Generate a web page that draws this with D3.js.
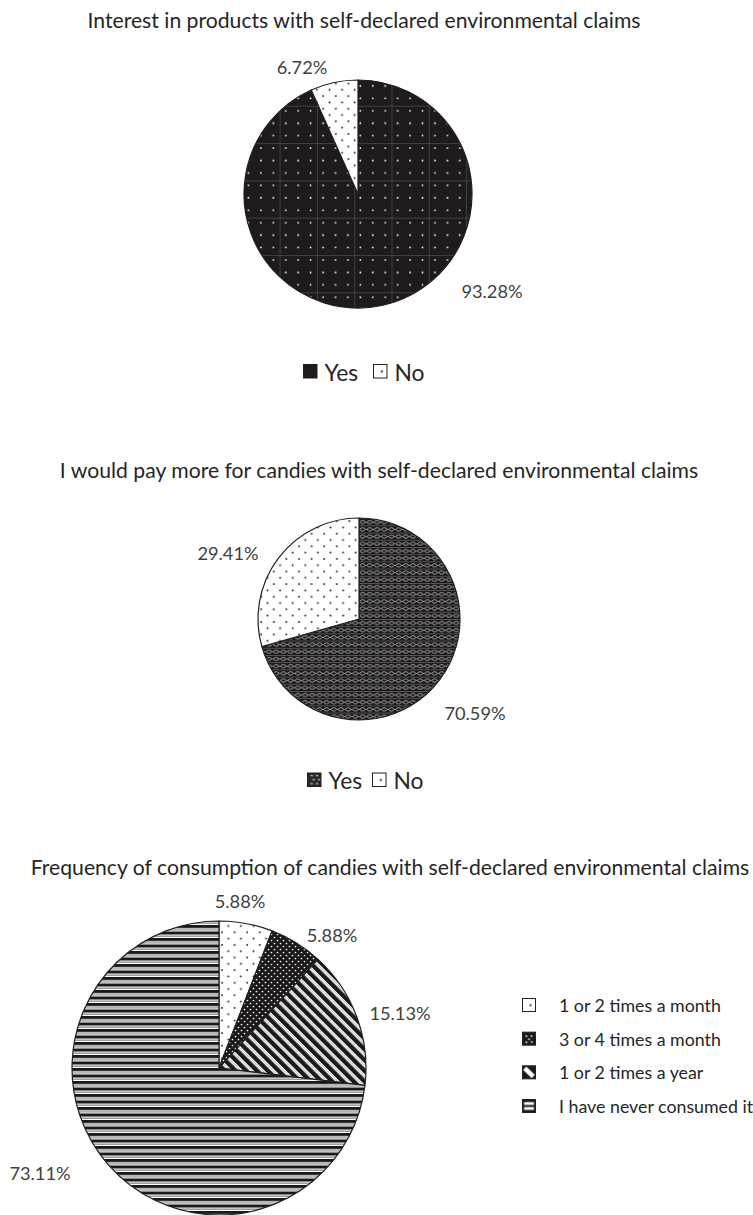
<!DOCTYPE html>
<html>
<head>
<meta charset="utf-8">
<script src="https://cdn.jsdelivr.net/npm/d3@7"></script>
<style>
  body { margin: 0; background: #fff; }
  svg { display: block; }
</style>
</head>
<body>
<script>
// Survey answers (percent of respondents)
const interestLabels = ["Yes", "No"];
const interestValues = [93.28, 6.72];

const payMoreLabels = ["Yes", "No"];
const payMoreValues = [70.59, 29.41];

const frequencyLabels = ["1 or 2 times a month", "3 or 4 times a month", "1 or 2 times a year", "I have never consumed it"];
const frequencyValues = [5.88, 5.88, 15.13, 73.11];

const chartTitles = [
  "Interest in products with self-declared environmental claims",
  "I would pay more for candies with self-declared environmental claims",
  "Frequency of consumption of candies with self-declared environmental claims"
];

const W = 753, H = 1215;
const INK = "#231f20";
const FONT = "Lato, 'Open Sans', sans-serif";

const svg = d3.select("body").append("svg")
  .attr("width", W).attr("height", H)
  .attr("viewBox", `0 0 ${W} ${H}`);

const defs = svg.append("defs");

// ---- fill patterns ----
function pattern(id, w, h, extra) {
  const p = defs.append("pattern").attr("id", id)
    .attr("patternUnits", "userSpaceOnUse")
    .attr("width", w).attr("height", h);
  if (extra) Object.entries(extra).forEach(([k, v]) => p.attr(k, v));
  return p;
}

// black with white dots and a faint grid
{
  const s = 37.3;
  const p = pattern("solidDots", s, s, { x: 257.3, y: 98.3 });
  p.append("rect").attr("width", s).attr("height", s).attr("fill", "#1f1b1c");
  p.append("path").attr("d", `M0.3,0V${s}M0,0.3H${s}`)
    .attr("stroke", "#5a5758").attr("stroke-width", 0.7).attr("fill", "none");
  [6.2, 18.6, 31.0].forEach(x => [5.0, 17.4, 29.8].forEach(y =>
    p.append("circle").attr("cx", x).attr("cy", y).attr("r", 0.9).attr("fill", "#fff")));
}

// white with sparse staggered black dots
{
  const s = 12.6;
  const p = pattern("sparseDots", s, s);
  p.append("rect").attr("width", s).attr("height", s).attr("fill", "#fff");
  [[3, 3], [9.3, 9.3]].forEach(([x, y]) =>
    p.append("circle").attr("cx", x).attr("cy", y).attr("r", 0.95).attr("fill", INK));
}

// dark lattice
{
  const w = 7.2, h = 7.2;
  const p = pattern("lattice", w, h);
  p.append("rect").attr("width", w).attr("height", h).attr("fill", "#1a1718");
  p.append("ellipse").attr("cx", w / 2).attr("cy", h / 2 + 0.4).attr("rx", 2.5).attr("ry", 1.6)
    .attr("fill", "none").attr("stroke", "#b4b2b3").attr("stroke-width", 0.8);
  p.append("path").attr("d", `M0,0.5H${w}`).attr("stroke", "#6f6d6e").attr("stroke-width", 0.7);
  p.append("circle").attr("cx", 0).attr("cy", h / 2 + 0.4).attr("r", 0.6).attr("fill", "#d8d8d8");
  p.append("circle").attr("cx", w).attr("cy", h / 2 + 0.4).attr("r", 0.6).attr("fill", "#d8d8d8");
}

// black with dense white dots
{
  const s = 6;
  const p = pattern("denseDots", s, s);
  p.append("rect").attr("width", s).attr("height", s).attr("fill", "#1b1819");
  [[1.5, 1.5], [4.5, 4.5]].forEach(([x, y]) =>
    p.append("circle").attr("cx", x).attr("cy", y).attr("r", 0.85).attr("fill", "#fff"));
}

// downward diagonal stripes
{
  const w = 7.6;
  const p = pattern("diagonal", w, w, { patternTransform: "rotate(-45)" });
  p.append("rect").attr("width", w).attr("height", w).attr("fill", "#fff");
  p.append("rect").attr("x", 0).attr("width", 4.4).attr("height", w).attr("fill", "#1b1819");
  p.append("rect").attr("x", 5.7).attr("width", 0.6).attr("height", w).attr("fill", "#a09e9f");
}

// horizontal stripes
{
  const h = 6.5;
  const p = pattern("horizontal", 10, h);
  p.append("rect").attr("width", 10).attr("height", h).attr("fill", "#fff");
  p.append("rect").attr("y", 0).attr("width", 10).attr("height", 3.1).attr("fill", "#1b1819");
  p.append("rect").attr("y", 4.3).attr("width", 10).attr("height", 1.0).attr("fill", "#6d6b6c");
}

// ---- helpers ----
function fitFont(sel, target) {
  sel.attr("font-size", 100);
  const w = sel.node().getComputedTextLength();
  sel.attr("font-size", 100 * target / w);
  return 100 * target / w;
}

function drawPie(cfg) {
  const { cx, cy, r, values, fills, labelOffsets } = cfg;
  const g = svg.append("g").attr("transform", `translate(${cx},${cy})`);
  const pie = d3.pie().sort(null).value(d => d)(values);
  const arc = d3.arc().innerRadius(0).outerRadius(r);
  g.selectAll("path.slice").data(pie).join("path")
    .attr("class", "slice")
    .attr("d", arc)
    .attr("fill", (d, i) => `url(#${fills[i]})`)
    .attr("stroke", INK)
    .attr("stroke-width", 1.2)
    .attr("stroke-linejoin", "round");
  g.selectAll("text.value").data(pie).join("text")
    .attr("class", "value")
    .attr("x", (d, i) => labelOffsets[i][0])
    .attr("y", (d, i) => labelOffsets[i][1])
    .attr("text-anchor", "middle")
    .attr("dominant-baseline", "central")
    .attr("font-family", FONT)
    .attr("font-size", cfg.labelSize)
    .attr("fill", "#404040")
    .text(d => d3.format(".2f")(d.data) + "%");
}

function title(text, x, y, size) {
  return svg.append("text")
    .attr("x", x).attr("y", y)
    .attr("text-anchor", "middle")
    .attr("font-family", FONT)
    .attr("font-size", size)
    .attr("fill", "#262626")
    .text(text);
}

// shared font sizes, derived from the widest title
const probe = title(chartTitles[2], 0, -100, 18);
const titleSize = fitFont(probe, 719);
probe.remove();
const labelSize = titleSize * 0.86;
const legendSize = titleSize * 1.08;
const smallLegendSize = titleSize * 0.84;

// ---- chart 1 ----
title(chartTitles[0], 364, 28, titleSize);
drawPie({
  cx: 358, cy: 194, r: 114,
  values: interestValues,
  fills: ["solidDots", "sparseDots"],
  labelOffsets: [[134, 97], [-56, -127]],
  labelSize
});

// ---- chart 2 ----
title(chartTitles[1], 379, 478, titleSize);
drawPie({
  cx: 359, cy: 619, r: 101,
  values: payMoreValues,
  fills: ["lattice", "sparseDots"],
  labelOffsets: [[116, 94], [-131, -66]],
  labelSize
});

// ---- chart 3 ----
title(chartTitles[2], 390, 875, titleSize);
drawPie({
  cx: 219, cy: 1068, r: 147,
  values: frequencyValues,
  fills: ["sparseDots", "denseDots", "diagonal", "horizontal"],
  labelOffsets: [[21, -167], [113, -133], [181, -55], [-179, 105]],
  labelSize
});

// ---- legends ----
function legendSwatch(g, x, y, size, fill) {
  g.append("rect")
    .attr("x", x).attr("y", y)
    .attr("width", size).attr("height", size)
    .attr("fill", fill)
    .attr("stroke", INK).attr("stroke-width", 1);
}

// key glyphs scale with their swatch
function swatchPattern(id, draw) {
  const p = defs.append("pattern").attr("id", id)
    .attr("patternUnits", "objectBoundingBox")
    .attr("patternContentUnits", "objectBoundingBox")
    .attr("width", 1).attr("height", 1);
  draw(p);
}

swatchPattern("keySolid", p => {
  p.append("rect").attr("width", 1).attr("height", 1).attr("fill", "#1f1b1c");
});
swatchPattern("keySparse", p => {
  p.append("rect").attr("width", 1).attr("height", 1).attr("fill", "#fff");
  p.append("rect").attr("x", 0.55).attr("y", 0.45).attr("width", 0.14).attr("height", 0.14).attr("fill", INK);
});
swatchPattern("keyLattice", p => {
  p.append("rect").attr("width", 1).attr("height", 1).attr("fill", "#2a2728");
  [0.2, 0.5, 0.8].forEach(y => [0.22, 0.62].forEach(x =>
    p.append("rect").attr("x", x + (y === 0.5 ? 0.15 : 0)).attr("y", y - 0.06)
      .attr("width", 0.18).attr("height", 0.1).attr("fill", "#b9b9b9")));
});
swatchPattern("keyDense", p => {
  p.append("rect").attr("width", 1).attr("height", 1).attr("fill", "#1b1819");
  [[0.3, 0.3], [0.7, 0.3], [0.5, 0.55], [0.3, 0.78], [0.72, 0.75]].forEach(([x, y]) =>
    p.append("rect").attr("x", x - 0.06).attr("y", y - 0.06).attr("width", 0.12).attr("height", 0.12).attr("fill", "#fff"));
});
swatchPattern("keyDiagonal", p => {
  p.append("rect").attr("width", 1).attr("height", 1).attr("fill", "#1b1819");
  p.append("path").attr("d", "M0.05,0.3L0.3,0.05L0.95,0.7L0.7,0.95Z").attr("fill", "#fff");
});
swatchPattern("keyHorizontal", p => {
  p.append("rect").attr("width", 1).attr("height", 1).attr("fill", "#1b1819");
  p.append("rect").attr("x", 0.12).attr("y", 0.2).attr("width", 0.76).attr("height", 0.22).attr("fill", "#fff");
  p.append("rect").attr("x", 0.12).attr("y", 0.58).attr("width", 0.76).attr("height", 0.22).attr("fill", "#fff");
});

function inlineLegend(labels, keys, y, xs) {
  const g = svg.append("g");
  labels.forEach((lab, i) => {
    legendSwatch(g, xs[i], y - 7, 13.5, `url(#${keys[i]})`);
    g.append("text")
      .attr("x", xs[i] + 21).attr("y", y)
      .attr("dominant-baseline", "central")
      .attr("font-family", FONT)
      .attr("font-size", legendSize)
      .attr("fill", "#262626")
      .text(lab);
  });
}

inlineLegend(interestLabels, ["keySolid", "keySparse"], 371.5, [303.5, 373.5]);
inlineLegend(payMoreLabels, ["keyLattice", "keySparse"], 780, [307.5, 372.5]);

{
  const g = svg.append("g");
  const rowY = d3.scalePoint().domain(frequencyLabels).range([1005, 1106]);
  const keys = ["keySparse", "keyDense", "keyDiagonal", "keyHorizontal"];
  frequencyLabels.forEach((lab, i) => {
    const y = rowY(lab);
    legendSwatch(g, 522.5, y - 6.5, 13, `url(#${keys[i]})`);
    g.append("text")
      .attr("x", 559).attr("y", y)
      .attr("dominant-baseline", "central")
      .attr("font-family", FONT)
      .attr("font-size", smallLegendSize)
      .attr("fill", "#262626")
      .text(lab);
  });
}
</script>
</body>
</html>
